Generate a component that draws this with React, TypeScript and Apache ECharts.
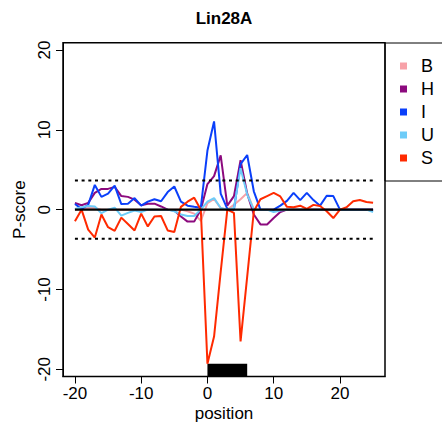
import React, { useEffect, useRef } from "react";
import * as echarts from "echarts";

const positions = [-20, -19, -18, -17, -16, -15, -14, -13, -12, -11, -10, -9, -8, -7, -6, -5, -4, -3, -2, -1, 0, 1, 2, 3, 4, 5, 6, 7, 8, 9, 10, 11, 12, 13, 14, 15, 16, 17, 18, 19, 20, 21, 22, 23, 24, 25];

const seriesNames = ["B", "H", "I", "U", "S"];
const seriesColors = ["#F7A1A8", "#8C0A7E", "#0A3FFA", "#6ECCF8", "#FF2A00"];

const valuesB = [0, 0.1, 0.2, 0.2, 0, 0, 0, 0, 0, 0, 0, 0, 0, 0, 0, 0, 0, -0.2, -0.5, -1.4, 0.8, 1.35, 0.2, 0, 0.6, 1.3, 2.1, 0, 0, 0, 0, 0, 0, 0, 0, 0, 0, 0, 0, 0, 0, 0, 0, 0, 0, 0];
const valuesH = [0.85, 0.55, 0.85, 2.1, 2.6, 2.6, 2.85, 1.7, 1.6, 1.25, 0.55, 0.75, 0.75, 0.4, 0, -0.1, -0.85, -1.5, -1.5, 0, 3.2, 4.2, 6.8, 0.5, 1.7, 6.2, 2.0, -0.6, -1.85, -1.85, -1.05, -0.3, 0, 0, 0, 0, 0, 0, 0, 0, 0, 0, 0, 0, 0, 0];
const valuesI = [0.7, 0.1, 0.6, 3.1, 1.6, 2.0, 3.0, 0.7, 0.75, 1.45, 0.5, 1.0, 1.3, 1.05, 2.2, 2.9, 1.0, 0.5, 0.35, 0.25, 7.4, 11.05, 2.0, 0.1, 0, 5.7, 6.85, 2.3, 0, 0, 0, 0.5, 1.1, 2.1, 1.2, 2.1, 1.2, 0.5, 1.75, 1.7, 0, 0, 0, 0, 0, 0];
const valuesU = [0.1, 0.3, 0.45, 0.4, -0.45, 0, 0.25, -0.75, -0.4, -0.1, -0.3, 0, 0, 0, 0, -0.2, -0.6, -0.8, -0.8, 0, 1.0, 1.45, 0.2, 0, 0.2, 5.2, 1.9, 0, 0, 0, -0.3, -0.1, 0, 0, 0, 0, 0, 0, 0, 0, 0, 0, 0, 0, 0, -0.3];
const valuesS = [-1.46, 0, -2.5, -3.5, -0.6, -2.2, -2.65, -1.0, -1.8, -2.6, -0.5, -2.1, -0.85, -0.8, -2.6, -2.8, 0.35, 1.0, 1.5, 0, -19.3, -15.9, -7.8, 0, -0.4, -16.5, -8.4, -0.2, 1.3, 1.7, 2.1, 1.65, 0.35, 0.3, 0.5, 0.1, 0.6, 0.45, -0.2, -1.05, 0, 0.3, 1.05, 1.2, 0.95, 0.85];
const allValues = [valuesB, valuesH, valuesI, valuesU, valuesS];

const xTicks = [-20, -10, 0, 10, 20];
const yTicks = [-20, -10, 0, 10, 20];
const threshold = 3.65;
const motifStart = 0;
const motifEnd = 6;
const motifTop = -19.3;

const xMin = -21.8;
const xMax = 26.8;
const yMin = -20.9;
const yMax = 20.9;

const FONT = "Liberation Sans, Arial, Helvetica, sans-serif";

export default function App() {
  const ref = useRef<HTMLDivElement>(null);

  useEffect(() => {
    if (!ref.current) return;
    const chart = echarts.init(ref.current, null, { renderer: "svg" });

    const dataSeries = seriesNames.map((name, i) => ({
      name,
      type: "line",
      data: positions.map((p, j) => [p, allValues[i][j]]),
      symbol: "none",
      lineStyle: { color: seriesColors[i], width: 2 },
      itemStyle: { color: seriesColors[i] },
      z: 2 + i,
      silent: true,
    }));

    const xFirst = positions[0];
    const xLast = positions[positions.length - 1];

    const option: any = {
      animation: false,
      title: {
        text: "Lin28A",
        left: 224,
        top: 10,
        padding: 0,
        textAlign: "center",
        textStyle: { fontFamily: FONT, fontWeight: "bold", fontSize: 17, color: "#000" },
      },
      legend: {
        data: seriesNames,
        orient: "vertical",
        left: 400,
        top: 57,
        padding: 0,
        itemWidth: 7,
        itemHeight: 7,
        itemGap: 5,
        icon: "rect",
        selectedMode: false,
        textStyle: { fontFamily: FONT, fontSize: 18, lineHeight: 18, color: "#000", padding: [0, 0, 0, 9] },
      },
      grid: {
        left: 63,
        right: 57,
        top: 42.8,
        bottom: 55.5,
        show: true,
        borderColor: "#000",
        borderWidth: 1.5,
        backgroundColor: "transparent",
        containLabel: false,
        outerBoundsMode: "none",
      },
      xAxis: {
        type: "value",
        min: xMin,
        max: xMax,
        name: "position",
        nameLocation: "middle",
        nameGap: 28,
        nameMoveOverlap: false,
        nameTextStyle: { fontFamily: FONT, fontSize: 17, color: "#000" },
        axisLine: { show: true, onZero: false, lineStyle: { color: "#000", width: 1 } },
        axisTick: { show: true, length: 7, customValues: xTicks, lineStyle: { color: "#000", width: 1 } },
        axisLabel: { customValues: xTicks, margin: 8, fontFamily: FONT, fontSize: 17, color: "#000" },
        splitLine: { show: false },
      },
      yAxis: {
        type: "value",
        min: yMin,
        max: yMax,
        name: "P-score",
        nameLocation: "middle",
        nameGap: 35,
        nameRotate: 90,
        nameMoveOverlap: false,
        nameTextStyle: { fontFamily: FONT, fontSize: 17, color: "#000" },
        axisLine: { show: true, onZero: false, lineStyle: { color: "#000", width: 1 } },
        axisTick: { show: true, length: 7, customValues: yTicks, lineStyle: { color: "#000", width: 1 } },
        axisLabel: { customValues: yTicks, rotate: 90, margin: 10, fontFamily: FONT, fontSize: 17, color: "#000" },
        splitLine: { show: false },
      },
      graphic: [
        {
          type: "rect",
          shape: { x: 385, y: 43, width: 80, height: 138 },
          style: { fill: "none", stroke: "#000", lineWidth: 1 },
          silent: true,
        },
      ],
      series: [
        ...dataSeries,
        {
          name: "upper",
          type: "line",
          data: [[xFirst, threshold], [xLast, threshold]],
          symbol: "none",
          silent: true,
          lineStyle: { color: "#000", width: 2, type: [3, 3.7] },
          z: 10,
        },
        {
          name: "lower",
          type: "line",
          data: [[xFirst, -threshold], [xLast, -threshold]],
          symbol: "none",
          silent: true,
          lineStyle: { color: "#000", width: 2, type: [3, 3.7] },
          z: 10,
        },
        {
          name: "zero",
          type: "line",
          data: [[xFirst, 0], [xLast, 0]],
          symbol: "none",
          silent: true,
          lineStyle: { color: "#000", width: 2.2 },
          z: 11,
          markArea: {
            silent: true,
            itemStyle: { color: "#000", opacity: 1 },
            data: [[{ coord: [motifStart, yMin] }, { coord: [motifEnd, motifTop] }]],
          },
        },
      ],
    };

    chart.setOption(option);
    return () => chart.dispose();
  }, []);

  return (
    <div
      ref={ref}
      style={{ position: "fixed", left: 0, top: 0, width: 442, height: 432, background: "#fff" }}
    />
  );
}
